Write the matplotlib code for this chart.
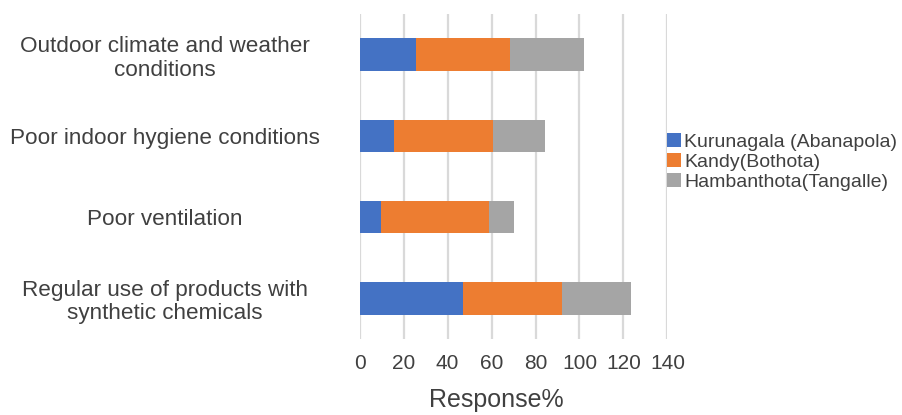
import numpy as np
import matplotlib
matplotlib.use("Agg")
import matplotlib.pyplot as plt

plt.rcParams['font.family'] = ['Liberation Sans', 'DejaVu Sans']

# factors, top to bottom
factors = [
    "Outdoor climate and weather\nconditions",
    "Poor indoor hygiene conditions",
    "Poor ventilation",
    "Regular use of products with\nsynthetic chemicals",
]
series_names = ["Kurunagala (Abanapola)", "Kandy(Bothota)", "Hambanthota(Tangalle)"]
kurunagala = [25.5, 15.5, 9.6, 46.9]
kandy = [43.0, 45.2, 49.1, 45.2]
hambanthota = [33.5, 23.5, 11.6, 31.4]
colors = ["#4472C4", "#ED7D31", "#A5A5A5"]
xticks = [0, 20, 40, 60, 80, 100, 120, 140]

text_col = "#404040"

fig = plt.figure(figsize=(9.03, 4.15), dpi=100)
ax = fig.add_axes([0.3983, 0.1831, 0.3408, 0.7831])

y = np.arange(len(factors))
left = np.zeros(len(factors))
for vals, name, c in zip([kurunagala, kandy, hambanthota], series_names, colors):
    ax.barh(y, vals, height=0.4, left=left, color=c, label=name, zorder=3)
    left += np.array(vals)

ax.set_ylim(3.5, -0.5)
ax.set_xlim(0, 140)
ax.set_xticks(xticks)
ax.set_xticklabels([str(t) for t in xticks], fontsize=15, color=text_col)
ax.set_yticks(y)
ax.set_yticklabels(factors, fontsize=16.2, color=text_col, linespacing=1.15)
for lab in ax.get_yticklabels():
    lab.set_ha('center')
    lab.set_multialignment('center')
ax.tick_params(axis='y', length=0, pad=140)
ax.tick_params(axis='x', length=0, pad=10.5)

ax.grid(axis='x', color='#d9d9d9', linewidth=1.6, zorder=0)
ax.set_axisbelow(True)
for s in ax.spines.values():
    s.set_visible(False)

fig.text(496 / 903, 1 - 400 / 415, "Response%", fontsize=18, color=text_col,
         ha='center', va='center')

fig.legend(loc='center left', bbox_to_anchor=(657 / 903, 1 - 162 / 415),
           frameon=False, fontsize=14, handlelength=0.75, handleheight=0.75,
           handletextpad=0.15, labelspacing=0.1, borderpad=0, labelcolor=text_col)

fig.savefig("out.png", dpi=100)
